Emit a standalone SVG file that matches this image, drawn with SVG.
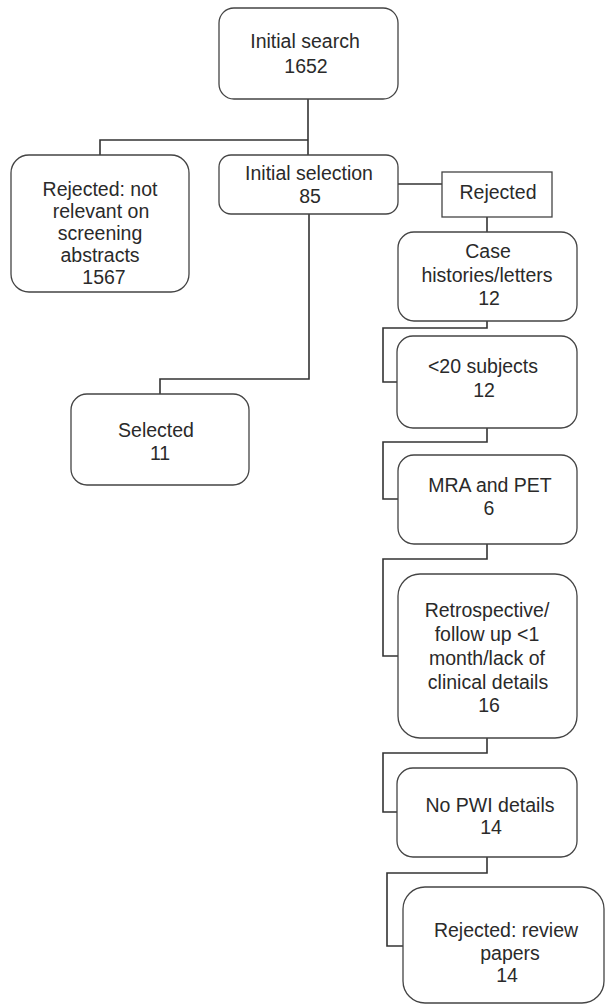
<svg xmlns="http://www.w3.org/2000/svg" width="606" height="1005" viewBox="0 0 606 1005">
<style>
.box{fill:#fff;stroke:#444;stroke-width:1.3}
.conn{fill:none;stroke:#333;stroke-width:1.6}
text{font-family:"Liberation Sans",Arial,sans-serif;font-size:19.5px;fill:#2a2a2a;text-anchor:middle}
</style>
<rect width="606" height="1005" fill="#fff"/>
<g id="connectors">
<path class="conn" d="M308,99 V155"/>
<path class="conn" d="M308,140 H100 V155"/>
<path class="conn" d="M398,184 H442"/>
<path class="conn" d="M487,217 V232"/>
<path class="conn" d="M309,214 V379 H160 V394"/>
<path class="conn" d="M487,321 V328 H383 V382 H397"/>
<path class="conn" d="M487,428 V442 H383 V499 H398"/>
<path class="conn" d="M487,544 V559 H383 V656 H398"/>
<path class="conn" d="M487,738 V753 H383 V812 H397"/>
<path class="conn" d="M487,857 V873 H387 V946 H403"/>
</g>
<g id="initial-search">
<rect class="box" x="219" y="8" width="179" height="91" rx="15"/>
<text x="305" y="48">Initial search</text>
<text x="306" y="73">1652</text>
</g>
<g id="rejected-abstracts">
<rect class="box" x="11" y="155" width="178" height="137" rx="18"/>
<text x="100" y="196">Rejected: not</text>
<text x="101" y="218">relevant on</text>
<text x="100" y="240">screening</text>
<text x="100" y="262">abstracts</text>
<text x="104" y="284">1567</text>
</g>
<g id="initial-selection">
<rect class="box" x="219" y="155" width="179" height="59" rx="12"/>
<text x="309" y="180">Initial selection</text>
<text x="310" y="203">85</text>
</g>
<g id="rejected">
<rect class="box" x="442" y="172" width="110" height="45"/>
<text x="498" y="199">Rejected</text>
</g>
<g id="case-histories">
<rect class="box" x="398" y="232" width="179" height="89" rx="16"/>
<text x="488" y="258">Case</text>
<text x="487" y="282">histories/letters</text>
<text x="489" y="305">12</text>
</g>
<g id="lt20-subjects">
<rect class="box" x="397" y="336" width="180" height="92" rx="16"/>
<text x="483" y="373">&lt;20 subjects</text>
<text x="484" y="397">12</text>
</g>
<g id="mra-pet">
<rect class="box" x="398" y="455" width="179" height="89" rx="16"/>
<text x="490" y="492">MRA and PET</text>
<text x="489" y="515">6</text>
</g>
<g id="retrospective">
<rect class="box" x="398" y="574" width="179" height="164" rx="22"/>
<text x="487" y="617">Retrospective/</text>
<text x="487" y="641">follow up &lt;1</text>
<text x="487" y="665">month/lack of</text>
<text x="488" y="689">clinical details</text>
<text x="489" y="712">16</text>
</g>
<g id="no-pwi">
<rect class="box" x="397" y="768" width="180" height="89" rx="16"/>
<text x="490" y="812">No PWI details</text>
<text x="491" y="834">14</text>
</g>
<g id="review-papers">
<rect class="box" x="403" y="887" width="201" height="116" rx="22"/>
<text x="506" y="937">Rejected: review</text>
<text x="510" y="960">papers</text>
<text x="507" y="982">14</text>
</g>
<g id="selected">
<rect class="box" x="71" y="394" width="178" height="91" rx="16"/>
<text x="156" y="437">Selected</text>
<text x="160" y="460">11</text>
</g>
</svg>
